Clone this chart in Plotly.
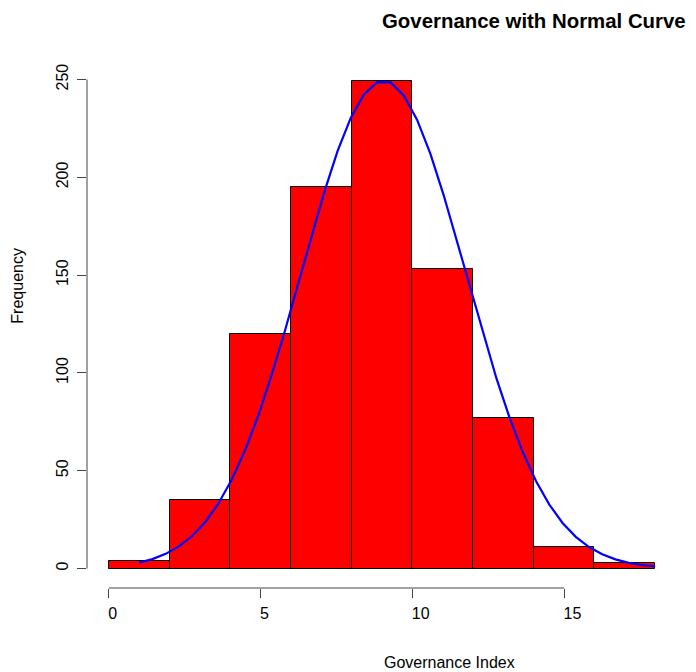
import plotly.graph_objects as go

# Histogram data (bins of width 2)
bin_lefts = [0, 2, 4, 6, 8, 10, 12, 14, 16]
bin_width = 2
counts = [4, 35, 120, 195, 249, 153, 77, 11, 3]

# Normal curve points
curve_x = [1.000, 1.436, 1.872, 2.308, 2.744, 3.179, 3.615, 4.051, 4.487, 4.923,
           5.359, 5.795, 6.231, 6.667, 7.103, 7.538, 7.974, 8.410, 8.846, 9.282,
           9.718, 10.154, 10.590, 11.026, 11.462, 11.897, 12.333, 12.769, 13.205, 13.641,
           14.077, 14.513, 14.949, 15.385, 15.821, 16.256, 16.692, 17.128, 17.564, 18.000]
curve_y = [3.0, 4.8, 7.5, 11.3, 16.6, 23.8, 33.4, 45.5, 60.4, 78.2,
           98.7, 121.2, 145.2, 169.4, 192.7, 213.5, 230.5, 242.5, 248.7, 248.5,
           241.9, 229.5, 212.2, 191.2, 167.8, 143.6, 119.7, 97.3, 77.0, 59.4,
           44.6, 32.7, 23.3, 16.2, 11.0, 7.3, 4.7, 2.9, 1.8, 1.1]

x_ticks = [0, 5, 10, 15]
y_ticks = [0, 50, 100, 150, 200, 250]

FONT = "Liberation Sans, Arial, sans-serif"
AX = "#444444"

fig = go.Figure()
fig.add_trace(go.Bar(
    x=bin_lefts, y=counts, width=bin_width, offset=0,
    marker=dict(color="#FF0000", line=dict(color="black", width=1)),
    hoverinfo="x+y", showlegend=False,
))
fig.add_trace(go.Scatter(
    x=curve_x, y=curve_y, mode="lines",
    line=dict(color="#0000FF", width=2.2), showlegend=False,
))

fig.update_layout(
    width=688, height=664,
    margin=dict(l=79, r=19, t=53.5, b=84),
    plot_bgcolor="white", paper_bgcolor="white",
    font=dict(family=FONT, size=16, color="black"),
    bargap=0,
    xaxis=dict(range=[-0.72, 18.72], tickvals=x_ticks, showgrid=False, zeroline=False,
               showline=False, ticks="outside", ticklen=9, tickwidth=1, tickcolor=AX,
               ticklabelposition="outside right", ticklabelshift=-1,
               ticklabelstandoff=11, tickfont=dict(size=16, family=FONT)),
    yaxis=dict(range=[-9.96, 258.96], tickvals=y_ticks, showgrid=False, zeroline=False,
               showline=False, ticks="outside", ticklen=9, tickwidth=1, tickcolor=AX,
               tickangle=-90, ticklabelstandoff=3, tickfont=dict(size=16, family=FONT)),
    shapes=[
        dict(type="line", xref="x", yref="y domain", x0=x_ticks[0], x1=x_ticks[-1], y0=0, y1=0,
             line=dict(color=AX, width=1)),
        dict(type="line", xref="x domain", yref="y", x0=0, x1=0, y0=y_ticks[0], y1=y_ticks[-1],
             line=dict(color=AX, width=1)),
    ],
    annotations=[
        dict(text="<b>Governance with Normal Curve</b>", xref="paper", yref="paper",
             x=0.758, y=1.077, showarrow=False, font=dict(size=20.4, family=FONT),
             xanchor="center", yanchor="middle"),
        dict(text="Governance Index", xref="paper", yref="paper",
             x=0.614, y=-0.1425, showarrow=False, font=dict(size=16, family=FONT),
             xanchor="center", yanchor="middle"),
        dict(text="Frequency", xref="paper", yref="paper", textangle=-90,
             x=-0.118, y=0.5755, showarrow=False, font=dict(size=16, family=FONT),
             xanchor="center", yanchor="middle"),
    ],
)

fig.write_html("out.html")
